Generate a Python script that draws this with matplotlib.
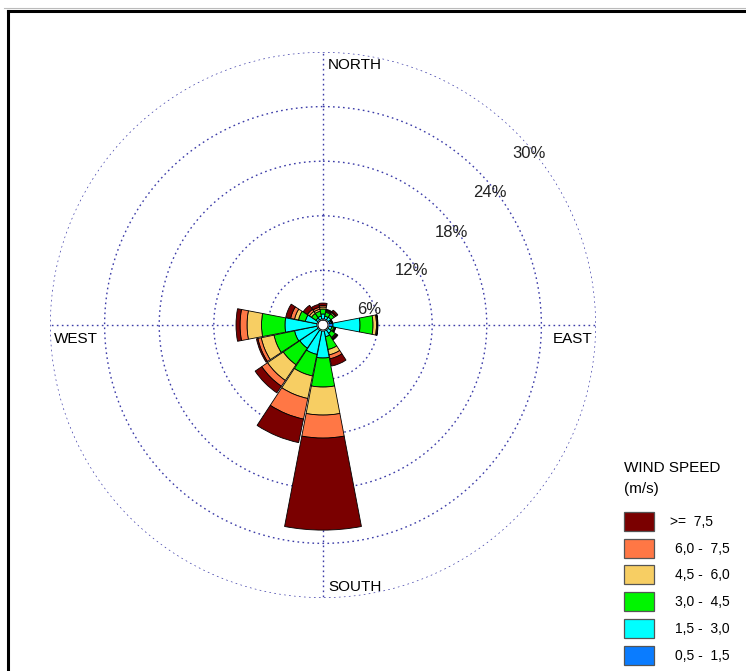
import numpy as np
import matplotlib
matplotlib.use("Agg")
import matplotlib.pyplot as plt
from matplotlib.patches import Rectangle

plt.rcParams['font.family'] = ['Liberation Sans', 'DejaVu Sans']

# Wind directions (16 points, clockwise from north)
directions = ["N", "NNE", "NE", "ENE", "E", "ESE", "SE", "SSE",
              "S", "SSW", "SW", "WSW", "W", "WNW", "NW", "NNW"]
dir_angles = np.arange(16) * 22.5

# Frequency (%) per direction for each wind speed class
freq_05_15 = [0.11, 0.11, 0.11, 0.22, 0.55, 0.11, 0.11, 0.11,
              0.11, 0.11, 0.11, 0.11, 0.11, 0.11, 0.11, 0.11]
freq_15_30 = [0.55, 0.33, 0.38, 0.16, 2.97, 0.33, 0.44, 0.66,
              2.97, 2.64, 2.42, 2.53, 3.52, 1.32, 0.27, 0.33]
freq_30_45 = [0.55, 0.44, 0.44, 0.05, 1.43, 0.22, 0.55, 1.43,
              3.19, 2.42, 2.20, 2.31, 2.58, 0.77, 0.60, 0.55]
freq_45_60 = [0.22, 0.11, 0.16, 0.05, 0.38, 0.11, 0.11, 0.60,
              3.08, 2.53, 2.09, 1.43, 1.59, 0.44, 0.27, 0.22]
freq_60_75 = [0.16, 0.11, 0.11, 0.00, 0.11, 0.05, 0.11, 0.44,
              2.53, 2.31, 0.77, 0.38, 0.77, 0.44, 0.27, 0.22]
freq_75_up = [0.27, 0.11, 0.22, 0.05, 0.05, 0.05, 0.11, 0.82,
              10.11, 2.64, 0.88, 0.16, 0.44, 0.55, 0.55, 0.33]

calm_radius = 0.55
speed_series = [freq_05_15, freq_15_30, freq_30_45, freq_45_60, freq_60_75, freq_75_up]
speed_labels = ["0,5 -  1,5", "1,5 -  3,0", "3,0 -  4,5",
                "4,5 -  6,0", "6,0 -  7,5", ">=  7,5"]
speed_colors = ["#0A7CFF", "#00FFFF", "#00F500", "#F7CE63", "#FF7745", "#7A0000"]

ring_values = [6, 12, 18, 24, 30]
ring_label_angles = [71, 58.5, 54.2, 51.5, 50.2]
r_max = 30

W, H = 746, 671
fig = plt.figure(figsize=(W / 100, H / 100), dpi=100)

# Polar axes: centre at (323, 325) px, outer ring radius 273 px
cx, cy, rad = 323, 325, 273
ax = fig.add_axes([(cx - rad) / W, (H - cy - rad) / H, 2 * rad / W, 2 * rad / H],
                  projection='polar')
ax.set_theta_zero_location('N')
ax.set_theta_direction(-1)
ax.set_ylim(0, r_max)
ax.grid(False)
ax.set_xticks([])
ax.set_yticks([])
ax.spines['polar'].set_visible(False)
ax.patch.set_alpha(0)

grid_color = "#3C3CA8"
grid_style = (0, (1.2, 2.4))
t = np.linspace(0, 2 * np.pi, 400)
for rv in ring_values:
    ax.plot(t, np.full_like(t, rv), color=grid_color, lw=1.0,
            linestyle=grid_style, zorder=1)
for a in [0, 90, 180, 270]:
    ax.plot([np.radians(a)] * 2, [0, r_max], color=grid_color, lw=1.0,
            linestyle=grid_style, zorder=1)

# Stacked wind rose bars
theta = np.radians(dir_angles)
width = np.radians(22.5) * 0.96
bottom = np.full(16, calm_radius)
for vals, col in zip(speed_series, speed_colors):
    vals = np.asarray(vals)
    ax.bar(theta, vals, width=width, bottom=bottom, color=col,
           edgecolor='black', linewidth=0.6, zorder=3)
    bottom = bottom + vals

# Calm circle in the centre
ax.fill(t, np.full_like(t, calm_radius), color='white', zorder=4)
ax.plot(t, np.full_like(t, calm_radius), color='black', lw=0.7, zorder=5)

# Ring percentage labels
for rv, ang in zip(ring_values, ring_label_angles):
    ax.text(np.radians(ang), rv - 0.6, f"{rv}%", fontsize=12, color='#222222',
            ha='center', va='center', zorder=6)

# Overlay in pixel coordinates for frame, compass names and legend
ov = fig.add_axes([0, 0, 1, 1])
ov.set_xlim(0, W)
ov.set_ylim(H, 0)
ov.axis('off')
ov.patch.set_alpha(0)

ov.plot([4, W], [7.5, 7.5], color='#BBBBBB', lw=0.8)
ov.plot([8, W + 5], [10.5, 10.5], color='black', lw=2.2)
ov.plot([8, 8], [10.5, H + 5], color='black', lw=2.2)

ov.text(328, 65, "NORTH", fontsize=11, ha='left', va='center')
ov.text(328, 587, "SOUTH", fontsize=11, ha='left', va='center')
ov.text(54, 339, "WEST", fontsize=11, ha='left', va='center')
ov.text(593, 339, "EAST", fontsize=11, ha='right', va='center')

# Legend
ov.text(624, 468, "WIND SPEED", fontsize=11, ha='left', va='center')
ov.text(624, 489, "(m/s)", fontsize=11, ha='left', va='center')
box_y0, box_dy = 512, 26.7
for i, (lab, col) in enumerate(zip(speed_labels[::-1], speed_colors[::-1])):
    y = box_y0 + i * box_dy
    ov.add_patch(Rectangle((624, y), 30, 19, facecolor=col,
                           edgecolor='#555555', lw=0.9))
    xt = 670 if i == 0 else 675
    ov.text(xt, y + 10, lab, fontsize=10, ha='left', va='center')

fig.savefig("out.png", dpi=100)
